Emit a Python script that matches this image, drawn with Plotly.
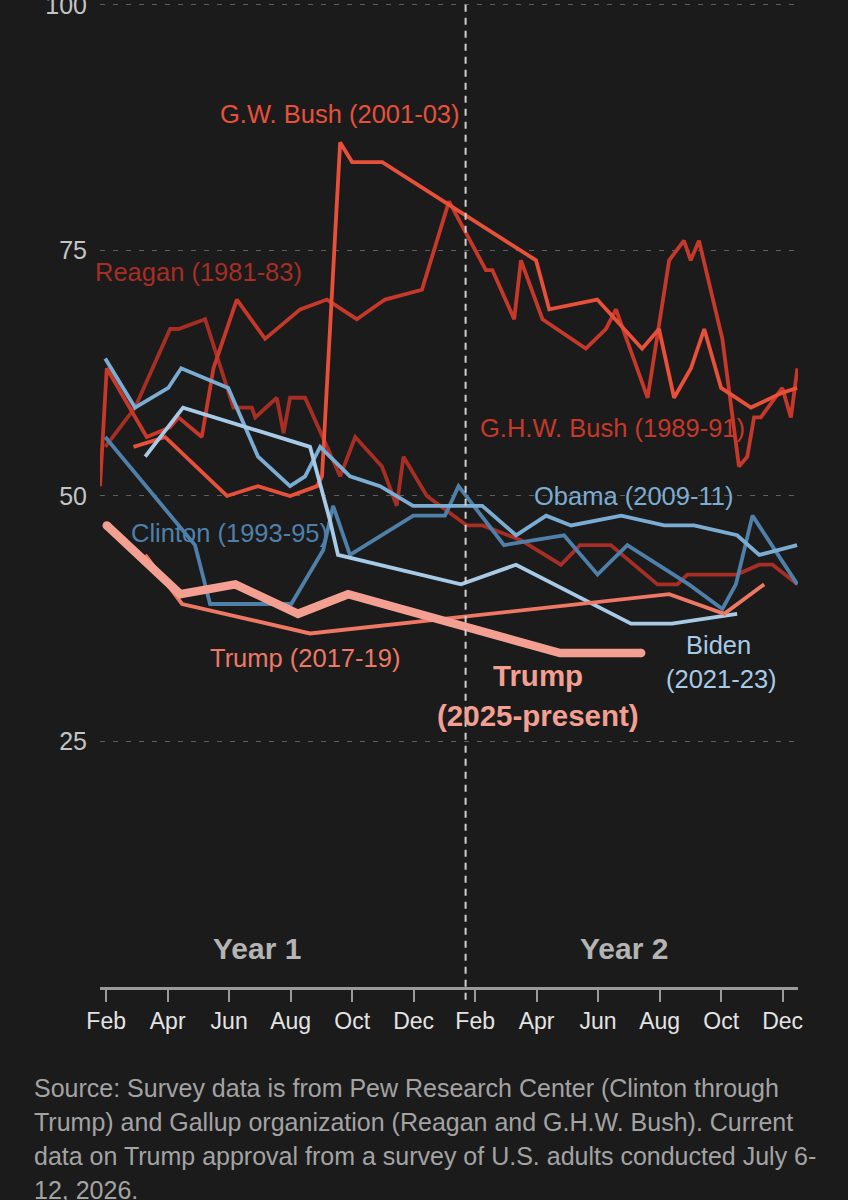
import plotly.graph_objects as go

# ---- data: x = month index (Feb of Year 1 = 1, Feb of Year 2 = 13), y = approval % ----
reagan_x = [0.97, 1.94, 3.08, 3.35, 4.22, 5.14, 5.74, 5.85, 6.55, 6.77, 6.98, 7.47, 8.61, 9.10, 9.97,
            10.45, 10.67, 11.43, 12.73, 13.24, 14.49, 15.79, 16.41, 17.41, 18.93, 19.58, 19.90, 21.51,
            22.24, 22.67, 23.48]
reagan_y = [55, 59, 67, 67, 68, 59, 59, 58, 60, 56.4, 60, 60, 52, 56, 53,
            49, 54, 50, 47, 47, 45.5, 43, 45, 45, 41, 41, 42, 42,
            43, 43, 41]

ghwb_x = [0.80, 1.02, 2.32, 3.08, 3.35, 4.11, 4.49, 5.25, 6.17, 7.31, 8.18, 9.15, 10.07, 11.27, 12.15,
          13.35, 13.56, 14.27, 14.49, 15.19, 16.60, 17.25, 17.58, 18.61, 19.31, 19.79, 20.01, 20.28,
          21.04, 21.58, 21.85, 22.07, 22.29, 22.99, 23.27, 23.48]
ghwb_y = [51, 63, 56, 57, 58, 56, 63, 70, 66, 69, 70, 68, 70, 71, 80,
          73, 73, 68, 74, 68, 65, 67, 69, 60, 74, 76, 74, 76,
          66, 53, 54, 58, 58, 61, 58, 63]

gwb_x = [1.89, 2.92, 4.93, 5.94, 6.98, 7.86, 8.02, 8.61, 9.00, 9.98, 14.98, 15.41, 16.97, 18.43, 18.98,
         19.47, 20.02, 20.45, 21.00, 21.97, 22.98, 23.47]
gwb_y = [55, 56, 50, 51, 50, 51, 52, 86, 84, 84, 74, 69, 70, 65, 67,
         60, 63, 67, 61, 59, 60.5, 61]

clinton_x = [0.97, 3.89, 4.38, 7.02, 8.06, 8.38, 8.93, 10.99, 12.02, 12.46, 13.94, 15.89, 16.98, 17.95,
             19.95, 21.04, 21.48, 22.02, 23.48]
clinton_y = [56, 45, 39, 39, 44.5, 49, 44, 48, 48, 51, 45, 46, 42, 45,
             41, 38.5, 41, 48, 41]

obama_x = [0.97, 1.94, 3.02, 3.44, 4.97, 5.94, 6.98, 7.47, 7.96, 8.93, 9.91, 10.98, 13.23, 14.33, 15.31,
           16.12, 17.75, 19.15, 20.12, 21.52, 22.24, 23.47]
obama_y = [64, 59, 61, 63, 61, 54, 51, 52, 55, 52, 51, 49, 49, 46, 48,
           47, 48, 47, 47, 46, 44, 45]

biden_x = [2.27, 3.50, 7.63, 8.28, 8.54, 12.54, 14.33, 18.07, 19.40, 21.52]
biden_y = [54, 59, 55, 47.5, 44, 41, 43, 37, 37, 38]

trump17_x = [2.27, 3.47, 7.63, 19.31, 21.10, 22.40]
trump17_y = [44, 39, 36, 40, 38, 41]

trump25_x = [1.02, 3.41, 5.20, 7.24, 8.87, 15.76, 18.40]
trump25_y = [47, 40, 41, 38, 40, 34, 34]

tick_vals = [1, 3, 5, 7, 9, 11, 13, 15, 17, 19, 21, 23]
tick_text = ["Feb", "Apr", "Jun", "Aug", "Oct", "Dec", "Feb", "Apr", "Jun", "Aug", "Oct", "Dec"]
y_ticks = [25, 50, 75, 100]
year_mark = 12.69  # one year after inauguration

# ---- styles ----
FONT = "Liberation Sans, Arial, sans-serif"
BG = "#1b1b1b"
C_REAGAN = "#a62e24"
C_GHWB = "#c5382a"
C_GWB = "#e8503a"
C_T17 = "#ee7864"
C_T25 = "#f3a092"
C_CLINTON = "#4f80aa"
C_OBAMA = "#7badd3"
C_BIDEN = "#a7cbe6"

fig = go.Figure()

LW = 3.8
series = [
    (reagan_x, reagan_y, C_REAGAN, LW),
    (ghwb_x, ghwb_y, C_GHWB, LW),
    (gwb_x, gwb_y, C_GWB, LW),
    (clinton_x, clinton_y, C_CLINTON, LW),
    (obama_x, obama_y, C_OBAMA, LW),
    (biden_x, biden_y, C_BIDEN, LW),
    (trump17_x, trump17_y, C_T17, LW),
    (trump25_x, trump25_y, C_T25, 8.5),
]
for xs, ys, col, w in series:
    fig.add_trace(go.Scatter(x=xs, y=ys, mode="lines",
                             line=dict(color=col, width=w), hoverinfo="skip"))

# round caps for the thick current line
fig.add_trace(go.Scatter(x=[trump25_x[0], trump25_x[-1]], y=[trump25_y[0], trump25_y[-1]],
                         mode="markers", marker=dict(color=C_T25, size=8.5, line=dict(width=0)),
                         hoverinfo="skip"))

labels = [
    ("G.W. Bush (2001-03)", 8.61, 88.9, C_GWB),
    ("Reagan (1981-83)", 3.99, 72.8, C_REAGAN),
    ("G.H.W. Bush (1989-91)", 17.47, 56.9, C_GHWB),
    ("Obama (2009-11)", 18.15, 50.0, C_OBAMA),
    ("Clinton (1993-95)", 5.0, 46.2, C_CLINTON),
    ("Trump (2017-19)", 7.47, 33.5, C_T17),
    ("Biden", 20.9, 34.8, C_BIDEN),
    ("(2021-23)", 21.0, 31.4, C_BIDEN),
]
for txt, x, y, col in labels:
    fig.add_annotation(x=x, y=y, xref="x", yref="y", text=txt, showarrow=False,
                       xanchor="center", yanchor="middle",
                       font=dict(family=FONT, size=25.5, color=col))

for txt, y in [("<b>Trump</b>", 31.7), ("<b>(2025-present)</b>", 27.6)]:
    fig.add_annotation(x=15.05, y=y, xref="x", yref="y", text=txt, showarrow=False,
                       xanchor="center", yanchor="middle",
                       font=dict(family=FONT, size=29.5, color=C_T25))

for txt, x in [("<b>Year 1</b>", 5.91), ("<b>Year 2</b>", 17.85)]:
    fig.add_annotation(x=x, y=3.9, xref="x", yref="y", text=txt, showarrow=False,
                       xanchor="center", yanchor="middle",
                       font=dict(family=FONT, size=30, color="#b4b4b4"))

source_lines = [
    "Source: Survey data is from Pew Research Center (Clinton through",
    "Trump) and Gallup organization (Reagan and G.H.W. Bush). Current",
    "data on Trump approval from a survey of U.S. adults conducted July 6-",
    "12, 2026.",
]
for i, line in enumerate(source_lines):
    fig.add_annotation(x=-0.0974, y=-0.1027 - 0.0345 * i, xref="paper", yref="paper",
                       text=line, showarrow=False, xanchor="left", yanchor="middle",
                       font=dict(family=FONT, size=25, color="#a3a3a3"))

fig.add_shape(type="line", x0=year_mark, x1=year_mark, xref="x", yref="paper",
              y0=-0.013, y1=1.01, layer="above",
              line=dict(color="#d0d0d0", width=2, dash="7px,6px"))

fig.update_layout(
    width=848, height=1200,
    margin=dict(l=100, r=50, t=2, b=213, autoexpand=False),
    paper_bgcolor=BG, plot_bgcolor=BG,
    showlegend=False, hovermode=False,
    font=dict(family=FONT),
    xaxis=dict(range=[0.8, 23.5], tickmode="array", tickvals=tick_vals, ticktext=tick_text,
               automargin=False,
               showgrid=False, zeroline=False, showline=True, linecolor="#9a9a9a", linewidth=2.5,
               ticks="outside", ticklen=12, tickwidth=2, tickcolor="#9a9a9a",
               tickfont=dict(family=FONT, size=23, color="#e4e4e4")),
    yaxis=dict(range=[0, 100.3], tickmode="array", tickvals=y_ticks, automargin=False,
               showgrid=True, gridcolor="#5e5e5e", gridwidth=1, griddash="5px,8px",
               zeroline=False, showline=False, ticks="", ticklabelstandoff=12,
               ticklabeloverflow="allow",
               tickfont=dict(family=FONT, size=25, color="#c4c4c4")),
)

fig.write_html("out.html", config={"displayModeBar": False},
               post_script="document.body.style.margin='0';")
